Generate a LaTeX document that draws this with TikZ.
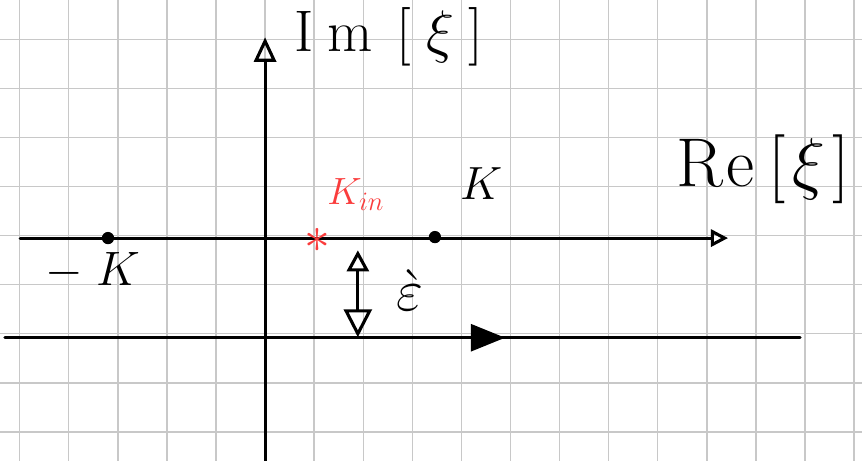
\RequirePackage{fix-cm}
\documentclass[tikz,border=0pt]{standalone}
\usepackage{amsmath,amssymb}
\usepackage{tikz}
\usetikzlibrary{arrows.meta,decorations.markings}
\usepackage{xcolor}
\definecolor{gridgray}{RGB}{200,200,200}
\definecolor{kinred}{RGB}{250,60,60}

\begin{document}
\begin{tikzpicture}[line width=1.8pt, line cap=round,
  gridline/.style={draw=gridgray, line width=0.8pt},
  pole/.style={circle, fill=black, inner sep=0pt, minimum size=0.25cm},
  lab/.style={inner sep=1pt, font=\fontsize{26}{30}\selectfont}]
\useasboundingbox (-5.40,-4.59) rectangle (12.16,4.80);
% grid paper
\draw[gridline] (-5.40,-4.59) grid (12.16,4.80);

% axes
\coordinate (imlo) at (0,-4.60);
\coordinate (imhi) at (0,4.04);
\coordinate (relo) at (-4.99,-0.05);
\coordinate (rehi) at (9.43,-0.05);
\draw[-{Triangle[open,length=0.5cm,width=0.45cm]}] (imlo) -- (imhi);
\draw[-{Triangle[open,length=0.35cm,width=0.35cm]}] (relo) -- (rehi);
\node[lab, font=\fontsize{34}{38}\selectfont] (im) at (2.52,4.05)
  {$\mathrm{I}\hspace{0.25em}\mathrm{m}\hspace{0.4em}[\hspace{0.25em}\xi\hspace{0.25em}]$};
\node[lab, font=\fontsize{40}{44}\selectfont] (re) at (10.14,1.35)
  {$\mathrm{R}\hspace{0.05em}\mathrm{e}\hspace{0.2em}[\hspace{0.1em}\xi\hspace{0.1em}]$};

% poles
\node[pole] (mk) at (-3.20,-0.05) {};
\node[pole] (pk) at (3.46,-0.03) {};
\node[lab, font=\fontsize{28}{32}\selectfont] (mklab) at (-3.50,-0.72) {$-\;K$};
\node[lab, font=\fontsize{27}{30}\selectfont] (pklab) at (4.40,1.07) {$K$};

% K_in
\node[inner sep=0pt, text=kinred, font=\fontsize{30}{30}\selectfont] (kin) at (1.06,-0.10) {$\ast$};
\node[lab, text=kinred, font=\fontsize{22}{26}\selectfont] (kinlab) at (1.85,0.84) {$K_{in}$};

% shifted contour
\coordinate (lowlo) at (-5.30,-2.08);
\coordinate (lowhi) at (10.90,-2.08);
\draw[postaction={decorate}, decoration={markings,
  mark=at position 0.629 with {\arrow{Triangle[length=0.7cm,width=0.55cm]}}}] (lowlo) -- (lowhi);

% epsilon
\coordinate (epstop) at (1.89,-0.30);
\coordinate (epsbot) at (1.89,-2.07);
\draw[{Triangle[open,length=0.43cm,width=0.45cm]}-{Triangle[open,length=0.57cm,width=0.57cm]}] (epstop) -- (epsbot);
\node[lab, font=\fontsize{34}{38}\selectfont] (eps) at (2.95,-1.12) {$\grave{\varepsilon}$};
\end{tikzpicture}
\end{document}
